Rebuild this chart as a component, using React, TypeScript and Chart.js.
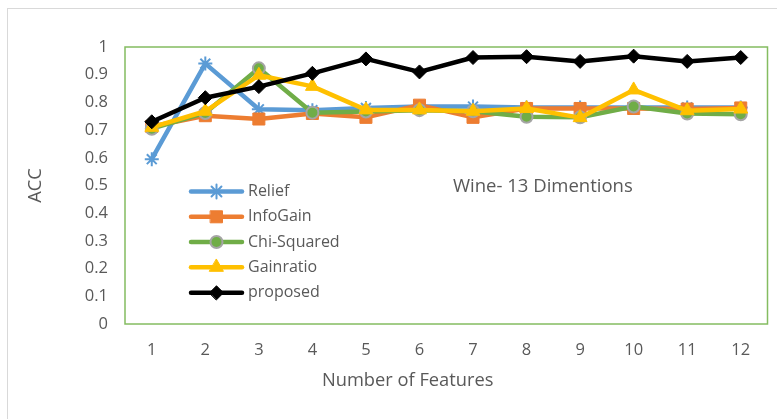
import React, { useEffect, useRef } from "react";
import { Chart, registerables } from "chart.js";
import { drawPoint } from "chart.js/helpers";

Chart.register(...registerables);

const categories = ["1", "2", "3", "4", "5", "6", "7", "8", "9", "10", "11", "12"];
const relief = [0.595, 0.94, 0.775, 0.772, 0.78, 0.785, 0.785, 0.782, 0.782, 0.782, 0.782, 0.782];
const infoGain = [0.713, 0.752, 0.74, 0.76, 0.746, 0.79, 0.746, 0.778, 0.778, 0.778, 0.776, 0.78];
const chiSquared = [0.705, 0.762, 0.923, 0.763, 0.767, 0.772, 0.768, 0.748, 0.746, 0.785, 0.76, 0.757];
const gainRatio = [0.71, 0.768, 0.898, 0.858, 0.773, 0.773, 0.768, 0.778, 0.745, 0.845, 0.77, 0.776];
const proposed = [0.73, 0.817, 0.857, 0.905, 0.957, 0.91, 0.962, 0.965, 0.948, 0.967, 0.948, 0.962];
const yTickValues = [0, 0.1, 0.2, 0.3, 0.4, 0.5, 0.6, 0.7, 0.8, 0.9, 1];
const yTickLabels = ["0", "0.1", "0.2", "0.3", "0.4", "0.5", "0.6", "0.7", "0.8", "0.9", "1"];
const chartTitle = "Wine- 13 Dimentions";
const xTitle = "Number of Features";
const yTitle = "ACC";

const FONT = "'Open Sans', 'Noto Sans', sans-serif";
const TEXT = "#595959";

const overlayPlugin = {
  id: "overlay",
  beforeDraw(chart: any) {
    const ctx = chart.ctx;
    ctx.save();
    ctx.strokeStyle = "#d9d9d9";
    ctx.lineWidth = 1;
    ctx.strokeRect(7.5, 8.5, 900, 600);
    ctx.restore();
  },
  afterDatasetsDraw(chart: any) {
    const ctx = chart.ctx;
    const { left, top, right, bottom } = chart.chartArea;
    ctx.save();
    ctx.strokeStyle = "#84bc60";
    ctx.lineWidth = 1.5;
    ctx.strokeRect(left, top, right - left, bottom - top);
    ctx.restore();
  },
  afterDraw(chart: any) {
    const ctx = chart.ctx;
    const { left, right } = chart.chartArea;
    const ys = [191.5, 216.8, 242, 267.3, 292.8];
    chart.data.datasets.forEach((ds: any, i: number) => {
      const y = ys[i];
      ctx.save();
      ctx.strokeStyle = ds.borderColor;
      ctx.lineWidth = ds.borderWidth;
      ctx.lineCap = "round";
      ctx.beginPath();
      ctx.moveTo(191, y);
      ctx.lineTo(242, y);
      ctx.stroke();
      ctx.fillStyle = ds.pointBackgroundColor;
      ctx.strokeStyle = ds.pointBorderColor;
      ctx.lineWidth = ds.pointBorderWidth;
      drawPoint(
        ctx,
        {
          pointStyle: ds.pointStyle,
          radius: ds.pointRadius,
          borderWidth: ds.pointBorderWidth,
          rotation: 0,
        } as any,
        216.5,
        y
      );
      ctx.fillStyle = TEXT;
      ctx.font = `16px ${FONT}`;
      ctx.textBaseline = "middle";
      ctx.textAlign = "left";
      ctx.fillText(ds.label, 248, y);
      ctx.restore();
    });
    ctx.save();
    ctx.fillStyle = TEXT;
    ctx.font = `18.5px ${FONT}`;
    ctx.textBaseline = "middle";
    ctx.textAlign = "left";
    ctx.fillText(chartTitle, 453, 187);
    ctx.textAlign = "center";
    ctx.font = `18.3px ${FONT}`;
    ctx.fillText(xTitle, left + (right - left) * 0.44, 381);
    ctx.restore();
  },
};

export default function App() {
  const ref = useRef<HTMLCanvasElement | null>(null);
  useEffect(() => {
    if (!ref.current) return;
    const mk = (
      label: string,
      data: number[],
      color: string,
      style: string,
      radius: number,
      bg: string,
      border: string,
      bw: number,
      order: number
    ) => ({
      label,
      data,
      borderColor: color,
      backgroundColor: color,
      borderWidth: 4.5,
      pointStyle: style,
      pointRadius: radius,
      pointHoverRadius: radius,
      pointBackgroundColor: bg,
      pointBorderColor: border,
      pointBorderWidth: bw,
      borderJoinStyle: "round",
      borderCapStyle: "round",
      tension: 0,
      order,
    });
    const chart = new Chart(ref.current, {
      type: "line",
      data: {
        labels: categories,
        datasets: [
          mk("Relief", relief, "#5B9BD5", "star", 7, "#5B9BD5", "#5B9BD5", 2, 5),
          mk("InfoGain", infoGain, "#ED7D31", "rect", 8.5, "#ED7D31", "#ED7D31", 1, 4),
          mk("Chi-Squared", chiSquared, "#70AD47", "circle", 6, "#70AD47", "#A5A5A5", 2, 3),
          mk("Gainratio", gainRatio, "#FFC000", "triangle", 8, "#FFC000", "#FFC000", 1, 2),
          mk("proposed", proposed, "#000000", "rectRot", 7, "#000000", "#000000", 1, 1),
        ] as any,
      },
      options: {
        animation: false,
        responsive: false,
        layout: { padding: { top: 47, right: 4, left: 0, bottom: 0 } },
        plugins: {
          legend: { display: false },
          title: { display: false },
          tooltip: { enabled: false },
        },
        scales: {
          x: {
            offset: true,
            grid: { display: false, drawTicks: false },
            border: { display: false },
            ticks: {
              color: TEXT,
              font: { family: FONT, size: 16.5 },
              padding: 16,
              maxRotation: 0,
            },
            afterFit(scale: any) {
              scale.height = 95;
            },
          },
          y: {
            min: 0,
            max: 1,
            grid: { display: false, drawTicks: false },
            border: { display: false },
            afterBuildTicks(scale: any) {
              scale.ticks = yTickValues.map((v) => ({ value: v }));
            },
            ticks: {
              color: TEXT,
              font: { family: FONT, size: 16.5 },
              padding: 17,
              callback: (v: any) => {
                const i = yTickValues.findIndex((t) => Math.abs(t - Number(v)) < 1e-9);
                return i >= 0 ? yTickLabels[i] : "";
              },
            },
            title: {
              display: true,
              text: yTitle,
              color: TEXT,
              font: { family: FONT, size: 18.3 },
              padding: { top: 25, bottom: 0 },
            },
            afterFit(scale: any) {
              scale.width = 125;
            },
          },
        },
      },
      plugins: [overlayPlugin],
    });
    return () => chart.destroy();
  }, []);
  return (
    <div style={{ position: "absolute", left: 0, top: 0, width: 777, height: 419, background: "#fff" }}>
      <canvas ref={ref} width={777} height={419} />
    </div>
  );
}
